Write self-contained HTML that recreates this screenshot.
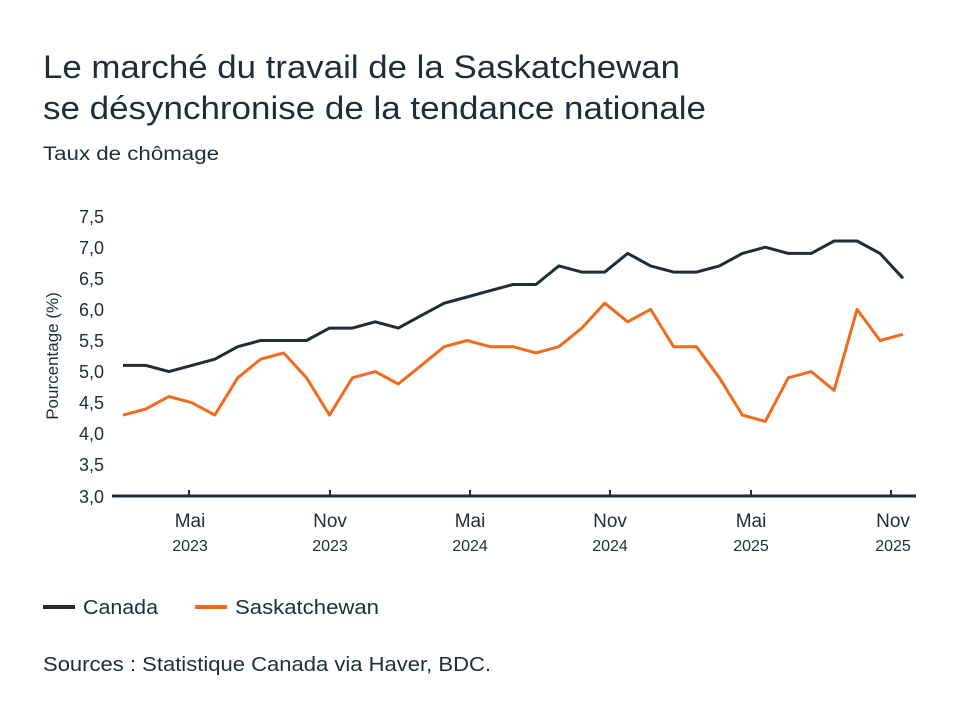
<!DOCTYPE html>
<html><head><meta charset="utf-8"><style>
body{margin:0;background:#fff;width:960px;height:721px;overflow:hidden;font-family:"Liberation Sans",sans-serif;color:#1f2d3a}
</style></head><body>
<svg width="960" height="721" xmlns="http://www.w3.org/2000/svg" font-family="Liberation Sans, sans-serif" fill="#1f2d3a">
<text x="43" y="78" font-size="32" textLength="637" lengthAdjust="spacingAndGlyphs">Le marché du travail de la Saskatchewan</text>
<text x="43" y="119" font-size="32" textLength="663" lengthAdjust="spacingAndGlyphs">se désynchronise de la tendance nationale</text>
<text x="43" y="160" font-size="19" textLength="176" lengthAdjust="spacingAndGlyphs">Taux de chômage</text>
<g font-size="18" text-anchor="end">
<text x="104" y="223">7,5</text><text x="104" y="254">7,0</text><text x="104" y="285">6,5</text><text x="104" y="316">6,0</text><text x="104" y="347">5,5</text><text x="104" y="378">5,0</text><text x="104" y="409">4,5</text><text x="104" y="440">4,0</text><text x="104" y="471">3,5</text><text x="104" y="503">3,0</text>
</g>
<text transform="translate(58,356) rotate(-90)" font-size="17" text-anchor="middle">Pourcentage (%)</text>
<line x1="112" y1="496" x2="916" y2="496" stroke="#1f2d3a" stroke-width="3"/>
<g stroke="#1f2d3a" stroke-width="2">
<line x1="189" y1="490" x2="189" y2="496"/><line x1="330" y1="490" x2="330" y2="496"/><line x1="470" y1="490" x2="470" y2="496"/><line x1="610" y1="490" x2="610" y2="496"/><line x1="751" y1="490" x2="751" y2="496"/><line x1="891" y1="490" x2="891" y2="496"/>
</g>
<g font-size="19" text-anchor="middle">
<text x="190" y="527">Mai</text><text x="330" y="527">Nov</text><text x="470" y="527">Mai</text><text x="610" y="527">Nov</text><text x="751" y="527">Mai</text><text x="893" y="527">Nov</text>
</g>
<g font-size="16" text-anchor="middle">
<text x="190" y="551">2023</text><text x="330" y="551">2023</text><text x="470" y="551">2024</text><text x="610" y="551">2024</text><text x="751" y="551">2025</text><text x="893" y="551">2025</text>
</g>
<polyline id="can" fill="none" stroke="#1f2d3a" stroke-width="3" stroke-linejoin="round" points=""/>
<polyline id="sk" fill="none" stroke="#f26b1d" stroke-width="3" stroke-linejoin="round" points=""/>
<line x1="43" y1="607" x2="75" y2="607" stroke="#1f2d3a" stroke-width="4"/>
<text x="83" y="614" font-size="20" textLength="75" lengthAdjust="spacingAndGlyphs">Canada</text>
<line x1="195" y1="607" x2="227" y2="607" stroke="#f26b1d" stroke-width="4"/>
<text x="235" y="614" font-size="20" textLength="144" lengthAdjust="spacingAndGlyphs">Saskatchewan</text>
<text x="43" y="671" font-size="20" textLength="448" lengthAdjust="spacingAndGlyphs">Sources : Statistique Canada via Haver, BDC.</text>
</svg>
<script>
var c=[5.1,5.1,5.0,5.1,5.2,5.4,5.5,5.5,5.5,5.7,5.7,5.8,5.7,5.9,6.1,6.2,6.3,6.4,6.4,6.7,6.6,6.6,6.9,6.7,6.6,6.6,6.7,6.9,7.0,6.9,6.9,7.1,7.1,6.9,6.5];
var s=[4.3,4.4,4.6,4.5,4.3,4.9,5.2,5.3,4.9,4.3,4.9,5.0,4.8,5.1,5.4,5.5,5.4,5.4,5.3,5.4,5.7,6.1,5.8,6.0,5.4,5.4,4.9,4.3,4.2,4.9,5.0,4.7,6.0,5.5,5.6];
function p(a){return a.map(function(v,i){return (123+i*22.94).toFixed(1)+","+(496-(v-3)*62.2).toFixed(1)}).join(" ")}
document.getElementById("can").setAttribute("points",p(c));
document.getElementById("sk").setAttribute("points",p(s));
</script>
</body></html>
